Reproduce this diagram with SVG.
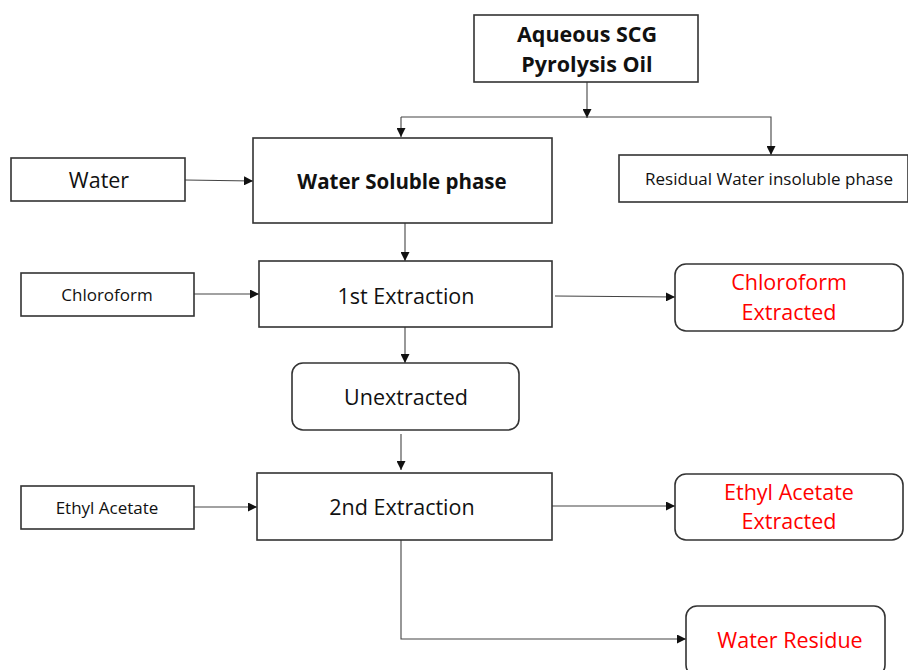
<svg xmlns="http://www.w3.org/2000/svg" width="908" height="670" viewBox="0 0 908 670">
<style>
.box{fill:#fff;stroke:#333;stroke-width:1.6}
.t{font-family:"Open Sans","Liberation Sans",sans-serif;fill:#111;text-anchor:middle;font-size:21.5px}
.b{font-weight:bold}
.s{font-size:17px}
.red{fill:#f00}
.c{fill:none;stroke:#444;stroke-width:1.1}
</style>
<defs>
<marker id="ah" viewBox="0 0 10 10" refX="10" refY="5" markerWidth="9" markerHeight="9" markerUnits="userSpaceOnUse" orient="auto">
<path d="M0,0 L10,5 L0,10 z" fill="#111"/>
</marker>
</defs>
<rect width="908" height="670" fill="#fff"/>
<g id="connectors">
<line class="c" x1="587" y1="82" x2="587" y2="118" marker-end="url(#ah)"/>
<polyline class="c" points="401,117 771,117 771,155" marker-end="url(#ah)"/>
<line class="c" x1="401" y1="117" x2="401" y2="137" marker-end="url(#ah)"/>
<line class="c" x1="185" y1="180" x2="253" y2="181" marker-end="url(#ah)"/>
<line class="c" x1="405" y1="223" x2="405" y2="261" marker-end="url(#ah)"/>
<line class="c" x1="194" y1="294" x2="259" y2="294" marker-end="url(#ah)"/>
<line class="c" x1="555" y1="296" x2="675" y2="297" marker-end="url(#ah)"/>
<line class="c" x1="405" y1="327" x2="405" y2="363" marker-end="url(#ah)"/>
<line class="c" x1="401" y1="434" x2="401" y2="470" marker-end="url(#ah)"/>
<line class="c" x1="194" y1="507" x2="257" y2="507" marker-end="url(#ah)"/>
<line class="c" x1="552" y1="506" x2="675" y2="506" marker-end="url(#ah)"/>
<polyline class="c" points="401,540 401,639 686,639" marker-end="url(#ah)"/>
</g>
<g id="aqueous">
<rect class="box" x="474" y="15" width="224" height="67"/>
<text class="t b" x="587" y="42" font-size="21">Aqueous SCG</text>
<text class="t b" x="587" y="72" font-size="21">Pyrolysis Oil</text>
</g>
<g id="water-soluble">
<rect class="box" x="253" y="138" width="299" height="85"/>
<text class="t b" x="402" y="189" style="font-size:20.5px">Water Soluble phase</text>
</g>
<g id="water">
<rect class="box" x="11" y="158" width="174" height="43"/>
<text class="t" x="99" y="188">Water</text>
</g>
<g id="residual">
<rect class="box" x="619" y="155" width="289" height="47"/>
<text class="t s" x="769" y="185">Residual Water insoluble phase</text>
</g>
<g id="chloroform">
<rect class="box" x="21" y="273" width="173" height="43"/>
<text class="t s" x="107" y="301">Chloroform</text>
</g>
<g id="extraction1">
<rect class="box" x="259" y="261" width="293" height="66"/>
<text class="t" x="406" y="304">1st Extraction</text>
</g>
<g id="chloroform-extracted">
<rect class="box" x="675" y="264" width="228" height="67" rx="11"/>
<text class="t red" x="789" y="290">Chloroform</text>
<text class="t red" x="789" y="320">Extracted</text>
</g>
<g id="unextracted">
<rect class="box" x="292" y="363" width="227" height="67" rx="11"/>
<text class="t" x="406" y="405">Unextracted</text>
</g>
<g id="ethyl-acetate">
<rect class="box" x="21" y="486" width="173" height="43"/>
<text class="t s" x="107" y="514">Ethyl Acetate</text>
</g>
<g id="extraction2">
<rect class="box" x="257" y="473" width="295" height="67"/>
<text class="t" x="402" y="515">2nd Extraction</text>
</g>
<g id="ethyl-extracted">
<rect class="box" x="675" y="474" width="228" height="66" rx="11"/>
<text class="t red" x="789" y="500">Ethyl Acetate</text>
<text class="t red" x="789" y="529">Extracted</text>
</g>
<g id="water-residue">
<rect class="box" x="686" y="606" width="199" height="70" rx="11"/>
<text class="t red" x="790" y="648">Water Residue</text>
</g>
</svg>
